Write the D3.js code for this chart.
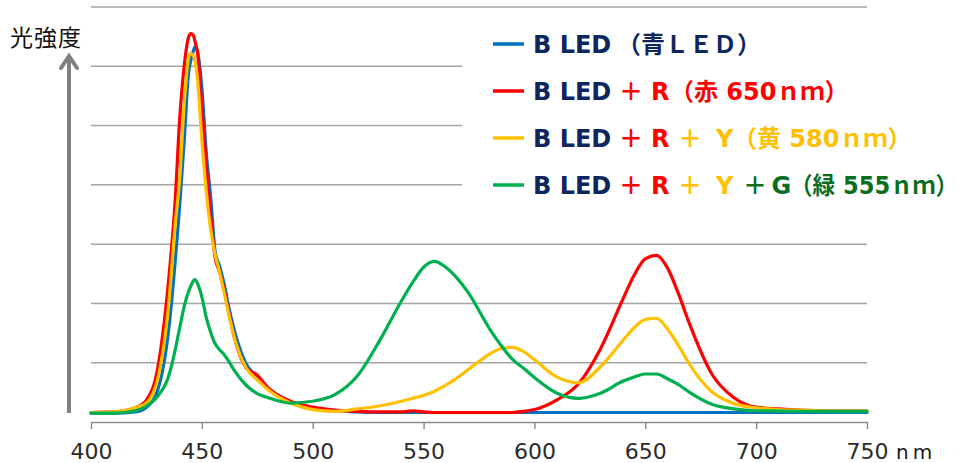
<!DOCTYPE html>
<html><head><meta charset="utf-8">
<script src="https://cdn.jsdelivr.net/npm/d3@7"></script>
<style>
html,body{margin:0;padding:0;background:#fff;}
svg{display:block;}
</style></head>
<body>
<svg id="chart" width="967" height="463"></svg>
<script>
// ---- data ----
const wavelengths = [400,410,420,425,430,435,438,440,442,444,445,446,447,448,450,452,454,456,458,460,462,465,470,475,480,490,500,510,520,530,540,545,550,555,560,565,570,580,585,590,595,600,610,620,630,640,645,650,655,660,665,670,680,690,700,710,720,730,740,750];
const blueLED = [0.15,0.15,0.17,0.25,0.53,1.55,2.72,3.65,4.72,5.89,6.10,6.24,6.33,6.26,5.63,4.54,3.78,2.87,2.63,2.34,1.96,1.50,0.98,0.76,0.57,0.34,0.24,0.19,0.17,0.16,0.16,0.16,0.16,0.16,0.16,0.16,0.16,0.16,0.16,0.16,0.16,0.16,0.16,0.16,0.16,0.16,0.16,0.16,0.16,0.16,0.16,0.16,0.16,0.16,0.16,0.16,0.16,0.16,0.16,0.16];
const plusR = [0.16,0.17,0.24,0.37,0.89,2.39,3.75,5.11,5.99,6.49,6.55,6.53,6.41,6.24,5.32,4.32,3.46,2.77,2.53,2.24,1.87,1.38,0.91,0.79,0.57,0.35,0.25,0.20,0.18,0.17,0.17,0.19,0.17,0.16,0.16,0.16,0.16,0.16,0.16,0.16,0.18,0.21,0.37,0.65,1.25,2.08,2.48,2.75,2.81,2.60,2.16,1.65,0.81,0.41,0.25,0.22,0.20,0.19,0.185,0.185];
const plusRY = [0.157,0.17,0.24,0.32,0.71,1.97,3.34,4.11,5.35,6.14,6.22,6.19,6.07,5.80,4.76,3.88,3.24,2.82,2.53,2.19,1.84,1.38,0.91,0.71,0.54,0.32,0.21,0.18,0.22,0.27,0.35,0.40,0.45,0.52,0.62,0.74,0.88,1.15,1.24,1.26,1.19,1.05,0.76,0.66,0.94,1.38,1.59,1.73,1.75,1.57,1.29,0.97,0.51,0.31,0.24,0.21,0.20,0.19,0.185,0.185];
const plusRYG = [0.15,0.15,0.19,0.27,0.43,0.77,1.22,1.59,1.94,2.20,2.29,2.37,2.40,2.34,2.11,1.76,1.51,1.32,1.22,1.14,1.03,0.85,0.62,0.48,0.41,0.32,0.35,0.46,0.77,1.36,2.04,2.35,2.61,2.71,2.61,2.43,2.19,1.56,1.29,1.06,0.91,0.75,0.49,0.40,0.49,0.69,0.76,0.81,0.81,0.73,0.63,0.50,0.30,0.22,0.19,0.185,0.18,0.18,0.18,0.18];
const xTicks = [400,450,500,550,600,650,700,750];
const gridValues = [1,2,3,4,5,6,7];
const xUnit = "nm";
const yTitle = "光強度";
// legend rows: tokens [text, colour key]
const legendRows = [
  [["B LED","navy"],["（青ＬＥＤ）","navy"]],
  [["B LED","navy"],["＋","red"],["R","red"],["（赤 650ｎｍ）","red"]],
  [["B LED","navy"],["＋","red"],["R","red"],["＋","yellow"],["Y","yellow"],["（黄 580ｎｍ）","yellow"]],
  [["B LED","navy"],["＋","red"],["R","red"],["＋","yellow"],["Y","yellow"],["＋","dkgreen"],["G","dkgreen"],["（緑 555ｎｍ）","dkgreen"]]
];

// ---- layout / styles ----
const legendTokenX = [
  [533, 617],
  [533, 619, 651, 670],
  [533, 619, 651, 678, 716, 733],
  [533, 619, 651, 678, 716, 743, 771.5, 790]
];
const seriesList = [
  {values: blueLED, color: "#0070C0"},
  {values: plusR,   color: "#FF0000"},
  {values: plusRY,  color: "#FFC000"},
  {values: plusRYG, color: "#00B050"}
];
const textColors = {navy:"#0E2660", red:"#FF0000", yellow:"#FFC000", dkgreen:"#0B6E1F"};

const svg = d3.select("#chart");
const x = d3.scaleLinear().domain([400,750]).range([91,867]);
const y = d3.scaleLinear().domain([0,7]).range([422,7]);

// gridlines
svg.append("g").selectAll("line").data(gridValues).join("line")
  .attr("x1", x(400)).attr("x2", x(750))
  .attr("y1", d=>y(d)).attr("y2", d=>y(d))
  .attr("stroke","#A5A5A5").attr("stroke-width",1.5);

// x axis
const xAxis = d3.axisBottom(x).tickValues(xTicks).tickSize(7).tickSizeOuter(0).tickPadding(14);
const gx = svg.append("g").attr("transform",`translate(0,${y(0)})`).call(xAxis);
gx.select(".domain").attr("stroke","#8C8C8C").attr("stroke-width",1.5);
gx.selectAll(".tick line").attr("stroke","#8C8C8C").attr("stroke-width",1.5);
gx.selectAll(".tick text").attr("font-family","'DejaVu Sans', sans-serif").attr("font-size",22)
  .attr("fill","#2b2b2b").attr("dy",null).attr("y",37);
svg.append("text").attr("x",896).attr("y",459).text(xUnit)
  .attr("font-family","'DejaVu Sans', sans-serif").attr("font-size",20)
  .attr("letter-spacing",4).attr("fill","#1a1a1a");

// y arrow
svg.append("line").attr("x1",69).attr("x2",69).attr("y1",413).attr("y2",57)
  .attr("stroke","#808080").attr("stroke-width",4);
svg.append("polyline").attr("points","61,68 69,56 77,68").attr("fill","none")
  .attr("stroke","#808080").attr("stroke-width",4).attr("stroke-linecap","round");
svg.append("text").attr("x",10).attr("y",46).text(yTitle)
  .attr("font-family","'Noto Sans CJK JP', sans-serif").attr("font-size",23)
  .attr("letter-spacing",1).attr("fill","#111");

// series
const line = d3.line().x((d,i)=>x(wavelengths[i])).y(d=>y(d)).curve(d3.curveMonotoneX);
svg.append("g").selectAll("path").data(seriesList).join("path")
  .attr("d", d=>line(d.values)).attr("fill","none")
  .attr("stroke", d=>d.color).attr("stroke-width",3.2)
  .attr("stroke-linejoin","round").attr("stroke-linecap","round");

// legend
const lg = svg.append("g");
lg.append("rect").attr("x",462).attr("y",14).attr("width",505).attr("height",190).attr("fill","#fff");
const rowY = [44, 91, 138, 185];
const legendRight = 958;
legendRows.forEach((row, r) => {
  lg.append("line").attr("x1",493).attr("x2",524).attr("y1",rowY[r]).attr("y2",rowY[r])
    .attr("stroke", seriesList[r].color).attr("stroke-width",3.5);
  row.forEach((seg, k) => {
    const t = lg.append("text").attr("y", rowY[r]+9).attr("x", legendTokenX[r][k])
      .attr("font-family","'DejaVu Sans','Noto Sans CJK JP', sans-serif")
      .attr("font-weight","bold").attr("font-size",24)
      .attr("fill", textColors[seg[1]]).text(seg[0]);
    const xEnd = legendTokenX[r][k] + t.node().getComputedTextLength();
    if (xEnd > legendRight) {
      t.attr("textLength", legendRight - legendTokenX[r][k]).attr("lengthAdjust","spacingAndGlyphs");
    }
  });
});
</script>
</body></html>
